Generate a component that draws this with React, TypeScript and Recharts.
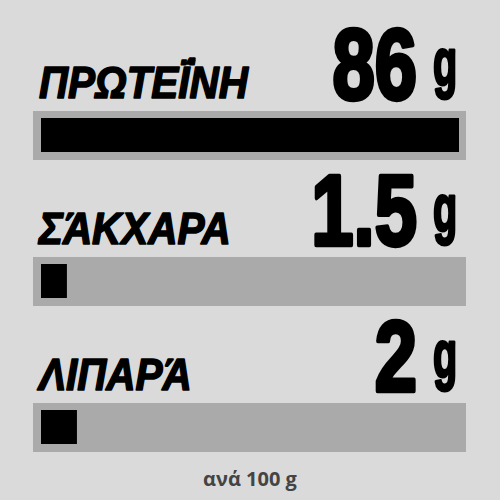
import { BarChart, Bar, XAxis, YAxis, LabelList } from 'recharts';

// nutrient rows, top to bottom
const nutrients = ['ΠΡΩΤΕΪ́ΝΗ', 'ΣΆΚΧΑΡΑ', 'ΛΙΠΑΡΆ'];
const grams = ['86', '1.5', '2'];
// how much of the track each bar fills, in percent
const fillShare = [100, 6.2, 8.6];
const unit = 'g';
const footnote = 'ανά 100 g';

const data = nutrients.map((name, i) => ({ name, share: fillShare[i] }));

const BG = '#dadada';
const TRACK = '#aaaaaa';
const INK = '#000000';

function Track(props: any) {
  const { x, y, width, height } = props;
  return <rect x={x - 8} y={y - 7} width={width + 15} height={height + 15} fill={TRACK} />;
}

function RowText(props: any) {
  const { x, y, index } = props;
  const base = y - 20;
  const numRight = 417;
  return (
    <g>
      <text
        transform={`translate(${x - 2},${base}) scale(0.92,1)`}
        fontFamily="'Liberation Sans', Arial, sans-serif"
        fontWeight={700}
        fontStyle="italic"
        fontSize={44}
        fill={INK}
        stroke={INK}
        strokeWidth={1.6}
        strokeLinejoin="round"
      >
        {nutrients[index]}
      </text>
      <text
        transform={`translate(${numRight},${base + 1}) scale(0.76,1)`}
        textAnchor="end"
        fontFamily="'Liberation Sans', Arial, sans-serif"
        fontWeight={700}
        fontSize={100}
        fill={INK}
        stroke={INK}
        strokeWidth={4.5}
        strokeLinejoin="round"
      >
        {grams[index]}
      </text>
      <text
        transform={`translate(${numRight + 16},${base - 13}) scale(0.6,1)`}
        fontFamily="'Liberation Sans', Arial, sans-serif"
        fontWeight={700}
        fontSize={66}
        fill={INK}
        stroke={INK}
        strokeWidth={3}
        strokeLinejoin="round"
      >
        {unit}
      </text>
    </g>
  );
}

export default function App() {
  return (
    <div style={{ position: 'fixed', left: 0, top: 0, width: 500, height: 500, background: BG }}>
      <BarChart
        width={500}
        height={500}
        data={data}
        layout="vertical"
        margin={{ top: 62, right: 41, bottom: 0, left: 41 }}
      >
        <XAxis type="number" domain={[0, 100]} hide />
        <YAxis type="category" dataKey="name" hide width={0} />
        <Bar
          dataKey="share"
          barSize={34}
          fill={INK}
          background={(p: any) => <Track key={`track-${p.index}`} {...p} />}
          isAnimationActive={false}
        >
          <LabelList dataKey="share" content={RowText} />
        </Bar>
      </BarChart>
      <div
        style={{
          position: 'absolute',
          left: 0,
          top: 465,
          width: 500,
          textAlign: 'center',
          fontFamily: "'Open Sans', sans-serif",
          fontWeight: 700,
          fontSize: 20,
          color: '#444444',
        }}
      >
        {footnote}
      </div>
    </div>
  );
}
